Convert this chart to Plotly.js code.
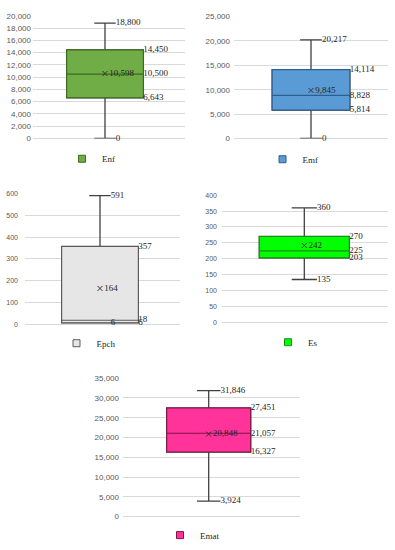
<!DOCTYPE html>
<html><head><meta charset="utf-8">
<script src="https://cdn.plot.ly/plotly-3.0.1.min.js"></script>
<style>html,body{margin:0;padding:0;background:#fff}#chart{width:395px;height:550px}</style>
</head><body><div id="chart"></div>
<script>
// ---- data ----
const names = ['Enf', 'Emf', 'Epch', 'Es', 'Emat'];
const maxValues = [18800, 20217, 591, 360, 31846];
const q3Values = [14450, 14114, 357, 270, 27451];
const medianValues = [10500, 8828, 18, 225, 21057];
const q1Values = [6643, 5814, 6, 203, 16327];
const minValues = [0, 0, 6, 135, 3924];
const meanValues = [10598, 9845, 164, 242, 20848];
const axisMax = [20000, 25000, 600, 400, 35000];
const axisStep = [2000, 5000, 100, 50, 5000];

// ---- styles / layout geometry (pixels) ----
const fills = ['#70ad47', '#5b9bd5', '#e7e6e6', '#00ff00', '#ff3399'];
const borders = ['#3b6a22', '#2d5f8e', '#5a5a5a', '#1c8c1c', '#7d1746'];
const geo = [
  {x0: 33, x1: 185, yTop: 16, yBot: 140, cx: 105, bw: 76.7, standoff: 1, tick: 8, leg: [88.5, 160.5]},
  {x0: 234, x1: 388, yTop: 16.7, yBot: 140, cx: 311, bw: 77.7, standoff: 3, tick: 8, leg: [289, 161]},
  {x0: 25, x1: 180, yTop: 195.7, yBot: 327.7, cx: 100, bw: 76.7, standoff: 6, tick: 7, leg: [83, 347]},
  {x0: 222, x1: 388, yTop: 197.3, yBot: 326, cx: 304.3, bw: 90, standoff: 4, tick: 7, leg: [294.5, 346]},
  {x0: 123, x1: 300, yTop: 382.3, yBot: 522.3, cx: 208.7, bw: 84, standoff: 3, tick: 8, leg: [186.5, 541]}
];
const W = 395, H = 550;
const whiskerW = 0.28;
const fmt = v => v.toLocaleString('en-US');
const labelFont = {family: 'Liberation Serif, DejaVu Serif, serif', size: 9, color: '#262626'};

const traces = [];
const layout = {
  width: W, height: H, autosize: false,
  margin: {l: 0, r: 0, t: 0, b: 0},
  paper_bgcolor: '#ffffff', plot_bgcolor: '#ffffff',
  boxmode: 'overlay',
  showlegend: true,
  hovermode: false
};

names.forEach((name, i) => {
  const k = i + 1;
  const xa = 'x' + (k === 1 ? '' : k), ya = 'y' + (k === 1 ? '' : k);
  const g = geo[i];
  const common = {type: 'box', x: [0], xaxis: xa, yaxis: ya, width: 1, whiskerwidth: whiskerW,
    boxpoints: false, hoverinfo: 'skip', showlegend: false};
  // whiskers
  traces.push(Object.assign({}, common, {
    q1: [q1Values[i]], median: [medianValues[i]], q3: [q3Values[i]],
    lowerfence: [minValues[i]], upperfence: [maxValues[i]],
    fillcolor: 'rgba(0,0,0,0)', line: {color: '#404040', width: 1.3}
  }));
  // box body
  traces.push(Object.assign({}, common, {
    q1: [q1Values[i]], median: [medianValues[i]], q3: [q3Values[i]],
    lowerfence: [q1Values[i]], upperfence: [q3Values[i]],
    fillcolor: fills[i], line: {color: borders[i], width: 1.1}
  }));
  // whisker-end labels
  traces.push({type: 'scatter', mode: 'text', xaxis: xa, yaxis: ya, showlegend: false, hoverinfo: 'skip',
    x: [whiskerW / 2, whiskerW / 2], y: [maxValues[i], minValues[i]],
    text: [fmt(maxValues[i]), fmt(minValues[i])], textposition: 'middle right', textfont: labelFont, cliponaxis: false});
  // quartile labels
  traces.push({type: 'scatter', mode: 'text', xaxis: xa, yaxis: ya, showlegend: false, hoverinfo: 'skip',
    x: [0.5, 0.5, 0.5], y: [q3Values[i], medianValues[i], q1Values[i]],
    text: [fmt(q3Values[i]), fmt(medianValues[i]), fmt(q1Values[i])], textposition: 'middle right', textfont: labelFont, cliponaxis: false});
  // mean marker
  traces.push({type: 'scatter', mode: 'markers+text', xaxis: xa, yaxis: ya, showlegend: false, hoverinfo: 'skip',
    x: [0], y: [meanValues[i]], text: [fmt(meanValues[i])], textposition: 'middle right', textfont: labelFont,
    marker: {symbol: 'x-thin', size: 5, line: {width: 1, color: '#333333'}, color: '#333333'}, cliponaxis: false});
  // legend entry
  const legName = 'legend' + (k === 1 ? '' : k);
  traces.push({type: 'scatter', mode: 'markers', x: [null], y: [null], xaxis: xa, yaxis: ya, name: name,
    legend: legName, showlegend: true, hoverinfo: 'skip',
    marker: {symbol: 'square', size: 7, color: fills[i], line: {color: borders[i], width: 1}}});

  layout['xaxis' + (k === 1 ? '' : k)] = {
    domain: [g.x0 / W, g.x1 / W], anchor: ya,
    range: [-(g.cx - g.x0) / g.bw, (g.x1 - g.cx) / g.bw],
    showgrid: false, zeroline: false, showticklabels: false, showline: false, fixedrange: true
  };
  layout['yaxis' + (k === 1 ? '' : k)] = {
    domain: [1 - g.yBot / H, 1 - g.yTop / H], anchor: xa,
    range: [0, axisMax[i]], tick0: 0, dtick: axisStep[i], tickformat: ',d',
    showgrid: true, gridcolor: '#d9d9d9', gridwidth: 1,
    zeroline: true, zerolinecolor: '#d9d9d9', zerolinewidth: 1, showline: false,
    ticks: '', ticklabelstandoff: g.standoff,
    tickfont: {family: 'Liberation Sans, Arial, sans-serif', size: g.tick, color: '#595959'},
    fixedrange: true
  };
  layout[legName] = {
    x: (g.leg[0] - 26.5) / W, y: 1 - g.leg[1] / H, xanchor: 'left', yanchor: 'middle',
    bgcolor: 'rgba(0,0,0,0)', borderwidth: 0,
    font: {family: 'Liberation Serif, DejaVu Serif, serif', size: 9, color: '#262626'}
  };
});

Plotly.newPlot('chart', traces, layout, {staticPlot: true, displayModeBar: false});
</script>
</body></html>
